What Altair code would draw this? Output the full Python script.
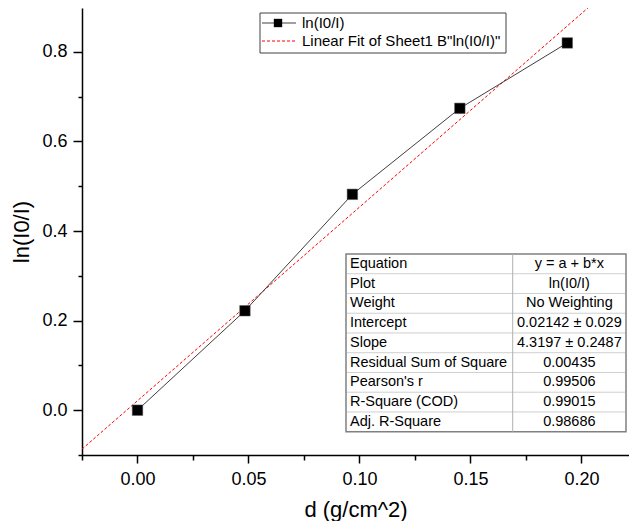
import altair as alt
import pandas as pd

# ---- data ----
d_values = [0.0, 0.0484, 0.0968, 0.1452, 0.1936]
ln_values = [0.0, 0.222, 0.482, 0.674, 0.820]

x_ticks = [-0.025, 0.0, 0.025, 0.05, 0.075, 0.1, 0.125, 0.15, 0.175, 0.2]
y_ticks = [-0.1, 0.0, 0.1, 0.2, 0.3, 0.4, 0.5, 0.6, 0.7, 0.8]

legend_labels = ["ln(I0/I)", 'Linear Fit of Sheet1 B"ln(I0/I)"']

table_names = ["Equation", "Plot", "Weight", "Intercept", "Slope",
               "Residual Sum of Square", "Pearson's r", "R-Square (COD)", "Adj. R-Square"]
table_values = ["y = a + b*x", "ln(I0/I)", "No Weighting", "0.02142 \u00b1 0.029",
                "4.3197 \u00b1 0.2487", "0.00435", "0.99506", "0.99015", "0.98686"]

FONT = "Liberation Sans"

df = pd.DataFrame({"d": d_values, "ln": ln_values})

xscale = alt.Scale(domain=[-0.025, 0.2214], nice=False, zero=False)
yscale = alt.Scale(domain=[-0.1, 0.898], nice=False, zero=False)

x_major = "abs(datum.value*20 - round(datum.value*20)) < 0.000001"
y_major = "abs(datum.value*5 - round(datum.value*5)) < 0.000001"

xaxis = alt.Axis(
    values=x_ticks, title="d (g/cm^2)", grid=False,
    labelExpr=f"({x_major}) ? format(datum.value, '.2f') : ''",
    tickSize={"condition": {"test": x_major, "value": 8}, "value": 5},
    labelPadding=7, titlePadding=11, labelFontSize=18, titleFontSize=22,
    labelFont=FONT, titleFont=FONT, titleFontWeight="normal",
    labelColor="#000000", titleColor="#000000",
    domainColor="#000000", tickColor="#000000", domainWidth=1.5, tickWidth=1.5,
    labelFlush=False, labelOverlap=False,
)
yaxis = alt.Axis(
    values=y_ticks, title="ln(I0/I)", grid=False,
    labelExpr=f"({y_major}) ? format(datum.value, '.1f') : ''",
    tickSize={"condition": {"test": y_major, "value": 9}, "value": 4},
    labelPadding=6, titlePadding=8, labelFontSize=18, titleFontSize=22,
    labelFont=FONT, titleFont=FONT, titleFontWeight="normal",
    labelColor="#000000", titleColor="#000000",
    domainColor="#000000", tickColor="#000000", domainWidth=1.5, tickWidth=1.5,
    labelFlush=False, labelOverlap=False,
)

base = alt.Chart(df)

fit = base.transform_regression(
    "d", "ln", extent=[-0.025, 0.2214]
).mark_line(color="#ff0000", strokeDash=[3, 2], strokeWidth=1, clip=True).encode(
    x=alt.X("d:Q", scale=xscale, axis=xaxis),
    y=alt.Y("ln:Q", scale=yscale, axis=yaxis),
)

line = base.mark_line(color="#404040", strokeWidth=1).encode(
    x=alt.X("d:Q", scale=xscale, axis=xaxis),
    y=alt.Y("ln:Q", scale=yscale, axis=yaxis),
)

pts = base.mark_square(size=110, color="#000000", opacity=1, stroke="#555555", strokeWidth=0.5).encode(
    x=alt.X("d:Q", scale=xscale, axis=xaxis),
    y=alt.Y("ln:Q", scale=yscale, axis=yaxis),
)

# ---- legend (pixel layout) ----
one = pd.DataFrame({"k": [0]})
leg_box = alt.Chart(one).mark_rect(fill="white", stroke="#404040", strokeWidth=1).encode(
    x=alt.value(178), x2=alt.value(424), y=alt.value(5), y2=alt.value(45)
)
leg_line1 = alt.Chart(one).mark_rule(color="#404040", strokeWidth=1).encode(
    x=alt.value(180), x2=alt.value(214), y=alt.value(15)
)
leg_sq = alt.Chart(one).mark_square(size=70, color="#000000", opacity=1).encode(
    x=alt.value(196), y=alt.value(15)
)
leg_line2 = alt.Chart(one).mark_rule(color="#ff0000", strokeWidth=1, strokeDash=[3, 2]).encode(
    x=alt.value(180), x2=alt.value(214), y=alt.value(33)
)
leg_df = pd.DataFrame({"label": legend_labels, "row": list(range(len(legend_labels)))})
leg_text = alt.Chart(leg_df).transform_calculate(
    py="15 + 18*datum.row"
).mark_text(align="left", baseline="middle", font=FONT, fontSize=15, color="#000000").encode(
    x=alt.value(220), y=alt.Y("py:Q", scale=None), text="label:N"
)

# ---- fit table (pixel layout) ----
tab_df = pd.DataFrame({"name": table_names, "value": table_values, "row": list(range(len(table_names)))})
T_TOP, T_BOT, T_L, T_R, T_DIV = 246, 423.7, 264, 544, 430.7
RH = (T_BOT - T_TOP) / len(table_names)

tab_box = alt.Chart(one).mark_rect(fill="white", stroke="#808080", strokeWidth=1.5).encode(
    x=alt.value(T_L), x2=alt.value(T_R), y=alt.value(T_TOP), y2=alt.value(T_BOT)
)
tab_rows = alt.Chart(tab_df).transform_filter("datum.row > 0").transform_calculate(
    py=f"{T_TOP} + {RH}*datum.row"
).mark_rule(color="#cfcfcf", strokeWidth=1).encode(
    x=alt.value(T_L + 1), x2=alt.value(T_R - 1), y=alt.Y("py:Q", scale=None)
)
tab_div = alt.Chart(one).mark_rule(color="#b0b0b0", strokeWidth=1).encode(
    x=alt.value(T_DIV), y=alt.value(T_TOP), y2=alt.value(T_BOT)
)
tab_names = alt.Chart(tab_df).transform_calculate(
    py=f"{T_TOP} + {RH}*(datum.row + 0.5)"
).mark_text(align="left", baseline="middle", font=FONT, fontSize=14.5, color="#000000").encode(
    x=alt.value(T_L + 4), y=alt.Y("py:Q", scale=None), text="name:N"
)
tab_vals = alt.Chart(tab_df).transform_calculate(
    py=f"{T_TOP} + {RH}*(datum.row + 0.5)"
).mark_text(align="center", baseline="middle", font=FONT, fontSize=14.5, color="#000000").encode(
    x=alt.value((T_DIV + T_R) / 2), y=alt.Y("py:Q", scale=None), text="value:N"
)

chart = alt.layer(
    fit, line, pts,
    leg_box, leg_line1, leg_sq, leg_line2, leg_text,
    tab_box, tab_rows, tab_div, tab_names, tab_vals,
).properties(
    width=547, height=447,
    autosize=alt.AutoSizeParams(type="none"),
    padding={"left": 74, "top": 0, "right": 0, "bottom": 66},
    background="white",
).configure_view(stroke=None)

chart.save("out.html", embed_options={"renderer": "svg", "actions": False})
